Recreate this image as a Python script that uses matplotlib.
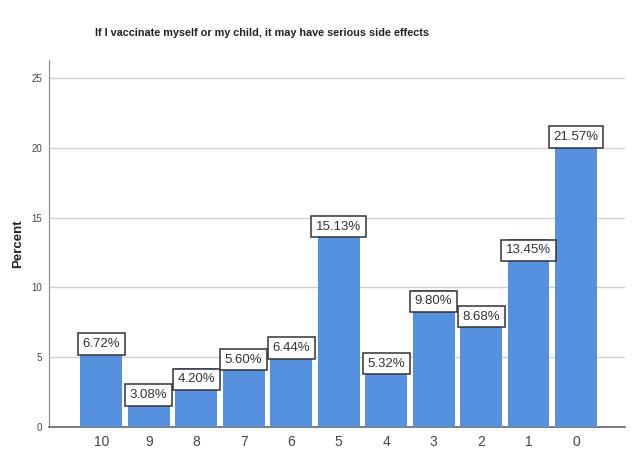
import matplotlib.pyplot as plt
import numpy as np

plt.rcParams['font.family'] = ['Liberation Sans', 'DejaVu Sans']

# chart data
categories = ['10', '9', '8', '7', '6', '5', '4', '3', '2', '1', '0']
percents = [6.72, 3.08, 4.20, 5.60, 6.44, 15.13, 5.32, 9.80, 8.68, 13.45, 21.57]
yticks = [0, 5, 10, 15, 20, 25]

fig = plt.figure(figsize=(6.35, 4.55), dpi=100)
ax = fig.add_axes([0.0772, 0.0615, 0.907, 0.8065])

x = np.arange(len(categories))
ax.bar(x, percents, width=0.88, color='#5591de', zorder=3)

# value labels hanging from the bar tops
for xi, v in zip(x, percents):
    ax.annotate(f'{v:.2f}%', (xi, v), xytext=(0, -3.5), textcoords='offset points',
                ha='center', va='top', fontsize=9.5, color='#333333', zorder=4,
                bbox=dict(boxstyle='square,pad=0.35', fc='white', ec='#333333', lw=1.1))

ax.set_xlim(-1.1, 11.03)
ax.set_ylim(0, 26.3)
ax.set_xticks(x)
ax.set_xticklabels(categories, fontsize=10, color='#444444')
ax.set_yticks(yticks)
ax.set_yticklabels([str(t) for t in yticks], fontsize=7, color='#444444')
ax.tick_params(length=0, pad=6)
ax.tick_params(axis='y', pad=5)
ax.yaxis.grid(True, color='#d0d0d0', lw=1, zorder=0)

for s in ['top', 'right']:
    ax.spines[s].set_visible(False)
ax.spines['left'].set_color('#888888')
ax.spines['bottom'].set_color('#666666')
ax.spines['bottom'].set_linewidth(1.2)

ax.set_ylabel('Percent', fontsize=9.5, fontweight='bold', color='#222222', labelpad=5)
fig.text(0.413, 0.927, 'If I vaccinate myself or my child, it may have serious side effects',
         ha='center', va='center', fontsize=7.8, fontweight='bold', color='#222222')

fig.savefig('out.png', dpi=100)
